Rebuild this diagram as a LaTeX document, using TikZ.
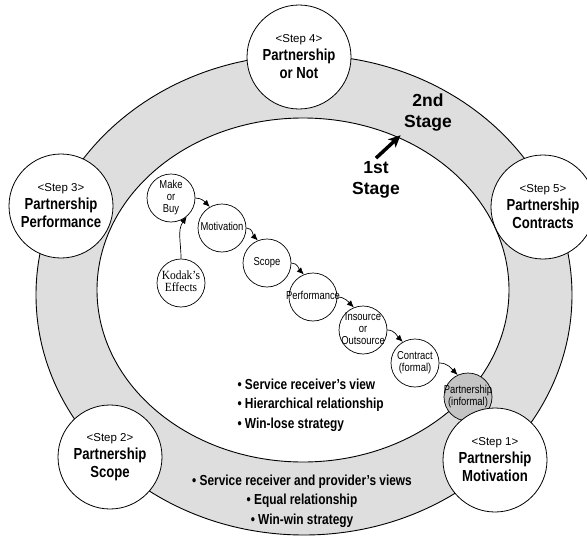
\documentclass[tikz,border=0pt]{standalone}
\usepackage{fontspec}
\setmainfont{Liberation Sans}
\newfontfamily\narrowfont{Liberation Sans}[FakeStretch=0.82]
\newfontfamily\kodakfont{Liberation Serif}[FakeStretch=0.92]
\usetikzlibrary{arrows.meta,positioning,shapes}
\definecolor{ringgray}{gray}{0.87}
\definecolor{dotgray}{gray}{0.77}
\newcommand{\steplabel}[1]{{\normalfont\fontsize{11.5}{18}\selectfont <Step #1>}}
\newcommand{\ctr}[1]{\makebox[0pt]{\begin{tabular}{@{}c@{}}#1\end{tabular}}}

\begin{document}
\begin{tikzpicture}
[ x=1pt, y=1pt,
		stepcircle/.style={circle,draw,fill=white,line width=0.8pt,minimum size=104pt,inner sep=0pt,align=center,font=\narrowfont\bfseries\fontsize{16}{18}\selectfont},
		factor/.style={circle,draw,fill=white,line width=0.7pt,minimum size=48pt,inner sep=0pt,font=\narrowfont\fontsize{11.5}{12}\selectfont},
		stagetext/.style={align=center,font=\bfseries\fontsize{17.5}{21}\selectfont},
		bullets/.style={font=\narrowfont\bfseries\fontsize{14.5}{19.5}\selectfont},
		arrowOut/.style={-{Latex[length=7pt,width=6pt]},line width=0.7pt},
		stageArrow/.style={-{Stealth[length=12pt,width=11pt,inset=3pt]},line width=3.5pt}]

	\useasboundingbox (0,0) rectangle (587,-538);
	\draw[line width=0.9pt,fill=ringgray] (304,-295) ellipse [x radius=268pt, y radius=240pt];
	\draw[line width=0.9pt,fill=white] (303,-290) ellipse [x radius=206pt, y radius=172pt];

	\node[factor] (make) at (171,-198) {\ctr{Make\\or\\Buy}};
	\node[factor] (motivation) at (222,-228) {\ctr{Motivation}};
	\node[factor,font=\kodakfont\fontsize{12.5}{12}\selectfont] (kodak) at (181,-283) {\ctr{Kodak’s\\Effects}};
	\node[factor] (scope) at (267,-263) {\ctr{Scope}};
	\node[factor] (performance) at (313,-297) {\ctr{Performance}};
	\node[factor] (insource) at (363,-330) {\ctr{Insource\\or\\Outsource}};
	\node[factor] (contract) at (415,-363) {\ctr{Contract\\(formal)}};
	\node[factor,fill=dotgray] (informal) at (468,-397) {\ctr{Partnership\\(informal)}};

	\draw[arrowOut] (make.east) to[out=0,in=135] (motivation.120);
	\draw[arrowOut] (motivation.east) to[out=0,in=135] (scope.112);
	\draw[arrowOut] (scope.east) to[out=0,in=135] (performance.112);
	\draw[arrowOut] (performance.east) to[out=0,in=135] (insource.112);
	\draw[arrowOut] (insource.east) to[out=0,in=135] (contract.120);
	\draw[arrowOut] (contract.east) to[out=0,in=135] (informal.115);
	\draw[arrowOut] (kodak.north) to[out=90,in=235] (make.-50);

	\node[stepcircle] (step1) at (495,-460) {\steplabel{1}\\Partnership\\Motivation};
	\node[stepcircle] (step2) at (110,-457) {\steplabel{2}\\Partnership\\Scope};
	\node[stepcircle] (step3) at (61,-206) {\steplabel{3}\\Partnership\\Performance};
	\node[stepcircle] (step4) at (299,-57) {\steplabel{4}\\Partnership\\or Not};
	\node[stepcircle] (step5) at (543,-207) {\steplabel{5}\\Partnership\\Contracts};

	\node[stagetext] (second) at (428,-113) {2nd\\Stage};
	\node[stagetext] (first) at (376,-180) {1st\\Stage};
	\draw[stageArrow] (first.north) -- (second.south west);

	\node[bullets,align=left,anchor=west] (receiver) at (234,-405) {• Service receiver’s view\\• Hierarchical relationship\\• Win-lose strategy};
	\node[bullets,align=center] (both) at (302,-501) {• Service receiver and provider’s views\\• Equal relationship\\• Win-win strategy};
\end{tikzpicture}
\end{document}
